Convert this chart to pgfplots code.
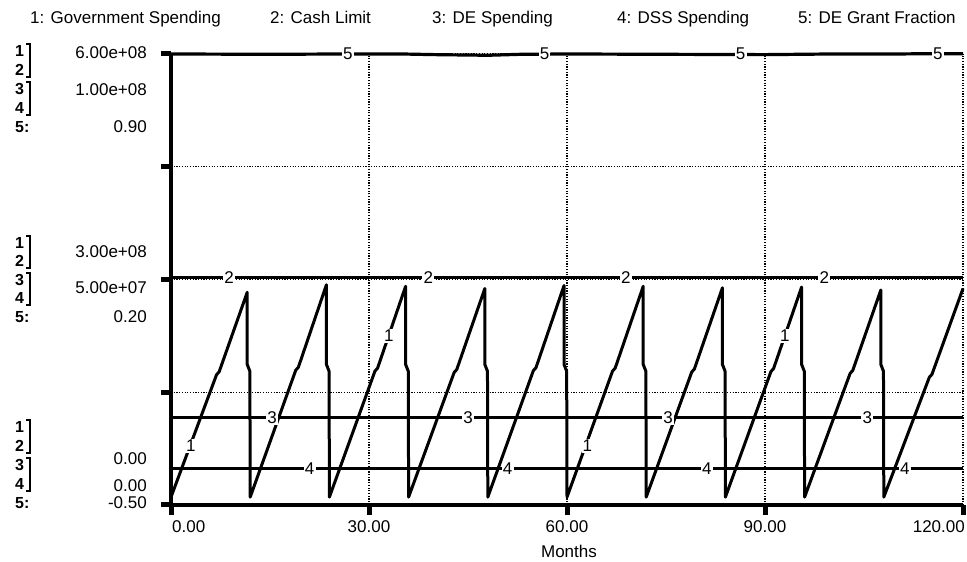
\documentclass[border=0pt]{standalone}
\usepackage{pgfplots}
\pgfplotsset{compat=1.18}
\usepackage{fontspec}
\setmainfont{Liberation Sans}
\newcommand\lab{\fontsize{17}{17}\selectfont}
\newcommand\dig{\fontsize{16}{16}\selectfont\bfseries}

\pgfplotstableread{
t v
0 1.05e7
3.5 9.31e7
6.9 1.733e8
7.3 1.773e8
11.55 2.83e8
11.55 1.87e8
11.95 1.78e8
12 1.05e7
15.5 9.61e7
18.9 1.793e8
19.3 1.833e8
23.55 2.93e8
23.55 1.87e8
23.95 1.78e8
24 1.05e7
27.5 9.55e7
30.9 1.781e8
31.3 1.821e8
35.55 2.91e8
35.55 1.87e8
35.95 1.78e8
36 1.05e7
39.5 9.46e7
42.9 1.763e8
43.3 1.803e8
47.55 2.88e8
47.55 1.87e8
47.95 1.78e8
48 1.05e7
51.5 9.58e7
54.9 1.787e8
55.3 1.827e8
59.55 2.92e8
59.55 1.87e8
59.95 1.78e8
60 1.05e7
63.5 9.55e7
66.9 1.781e8
67.3 1.821e8
71.55 2.91e8
71.55 1.87e8
71.95 1.78e8
72 1.05e7
75.5 9.49e7
78.9 1.769e8
79.3 1.809e8
83.55 2.89e8
83.55 1.87e8
83.95 1.78e8
84 1.05e7
87.5 9.52e7
90.9 1.775e8
91.3 1.815e8
95.55 2.90e8
95.55 1.87e8
95.95 1.78e8
96 1.05e7
99.5 9.40e7
102.9 1.751e8
103.3 1.791e8
107.55 2.86e8
107.55 1.87e8
107.95 1.78e8
108 1.05e7
111.5 9.14e7
114.9 1.699e8
115.3 1.739e8
120 2.88e8
}\govspend

\pgfplotstableread{
t v
0 3.03e8
120 3.03e8
}\cashlimit

\pgfplotstableread{
t v
0 1.93e7
120 1.93e7
}\despend

\pgfplotstableread{
t v
0 8.0e6
120 8.0e6
}\dssspend

\pgfplotstableread{
t v
0 0.900
15 0.899
26 0.900
35 0.900
40 0.898
48 0.896
53 0.899
60 0.900
75 0.899
90 0.898
100 0.900
110 0.900
115 0.901
120 0.901
}\grantfrac

\begin{document}
\begin{tikzpicture}[x=1pt,y=1pt]
\useasboundingbox (0,0) rectangle (967,562);

% axis for series 1 and 2 (0 .. 6e8)
\begin{axis}[
  at={(171pt,57pt)}, anchor=south west, scale only axis,
  width=792pt, height=451pt,
  xmin=0, xmax=120, ymin=0, ymax=6e8,
  clip=false,
  axis x line*=bottom, axis y line*=left,
  axis line style={line width=4.2pt,-,black},
  xtick={0,30,60,90,120}, ytick={0,1.5e8,3e8,4.5e8,6e8},
  xticklabels={}, yticklabels={},
  scaled y ticks=false,
  tick align=outside, major tick length=10pt,
  tick style={line width=5pt,black},
  grid=major,
  grid style={line width=1.3pt,black,dash pattern=on 1.2pt off 1.5pt},
]
\addplot[black, line width=3pt, line join=round] table[x=t,y=v]{\govspend};
\addplot[black, line width=3pt] table[x=t,y=v]{\cashlimit};
\node[fill=white,inner sep=1.2pt,font=\lab] at (axis cs:8.8,3.03e8) {2};
\node[fill=white,inner sep=1.2pt,font=\lab] at (axis cs:39,3.03e8) {2};
\node[fill=white,inner sep=1.2pt,font=\lab] at (axis cs:68.9,3.03e8) {2};
\node[fill=white,inner sep=1.2pt,font=\lab] at (axis cs:99,3.03e8) {2};
\node[fill=white,inner sep=1.2pt,font=\lab] at (axis cs:3.0,7.9e7) {1};
\node[fill=white,inner sep=1.2pt,font=\lab] at (axis cs:33.0,2.25e8) {1};
\node[fill=white,inner sep=1.2pt,font=\lab] at (axis cs:63.1,7.9e7) {1};
\node[fill=white,inner sep=1.2pt,font=\lab] at (axis cs:93.0,2.25e8) {1};
\end{axis}

% axis for series 3 and 4 (0 .. 1e8)
\begin{axis}[
  at={(171pt,57pt)}, anchor=south west, scale only axis,
  width=792pt, height=451pt,
  xmin=0, xmax=120, ymin=0, ymax=1e8,
  clip=false, hide axis,
]
\addplot[black, line width=3pt] table[x=t,y=v]{\despend};
\addplot[black, line width=3pt] table[x=t,y=v]{\dssspend};
\node[fill=white,inner sep=1.2pt,font=\lab] at (axis cs:15.3,1.93e7) {3};
\node[fill=white,inner sep=1.2pt,font=\lab] at (axis cs:45,1.93e7) {3};
\node[fill=white,inner sep=1.2pt,font=\lab] at (axis cs:75.3,1.93e7) {3};
\node[fill=white,inner sep=1.2pt,font=\lab] at (axis cs:105.5,1.93e7) {3};
\node[fill=white,inner sep=1.2pt,font=\lab] at (axis cs:21,8.0e6) {4};
\node[fill=white,inner sep=1.2pt,font=\lab] at (axis cs:51,8.0e6) {4};
\node[fill=white,inner sep=1.2pt,font=\lab] at (axis cs:81.2,8.0e6) {4};
\node[fill=white,inner sep=1.2pt,font=\lab] at (axis cs:111.2,8.0e6) {4};
\end{axis}

% axis for series 5 (-0.5 .. 0.9)
\begin{axis}[
  at={(171pt,57pt)}, anchor=south west, scale only axis,
  width=792pt, height=451pt,
  xmin=0, xmax=120, ymin=-0.5, ymax=0.9,
  clip=false, hide axis,
]
\addplot[black, line width=3.2pt] table[x=t,y=v]{\grantfrac};
\node[fill=white,inner sep=1.2pt,font=\lab] at (axis cs:26.8,0.9) {5};
\node[fill=white,inner sep=1.2pt,font=\lab] at (axis cs:56.6,0.9) {5};
\node[fill=white,inner sep=1.2pt,font=\lab] at (axis cs:86.3,0.9) {5};
\node[fill=white,inner sep=1.2pt,font=\lab] at (axis cs:116.2,0.9) {5};
\end{axis}

% header legend
\node[anchor=base west,font=\lab,inner sep=0] at (30,538) {1: Government Spending};
\node[anchor=base west,font=\lab,inner sep=0] at (270,538) {2: Cash Limit};
\node[anchor=base west,font=\lab,inner sep=0] at (432,538) {3: DE Spending};
\node[anchor=base west,font=\lab,inner sep=0] at (617,538) {4: DSS Spending};
\node[anchor=base west,font=\lab,inner sep=0] at (798,538) {5: DE Grant Fraction};

% x tick labels and title
\node[anchor=base west,font=\lab,inner sep=0] at (172,29) {0.00};
\node[anchor=base,font=\lab,inner sep=0] at (369,29) {30.00};
\node[anchor=base,font=\lab,inner sep=0] at (567,29) {60.00};
\node[anchor=base,font=\lab,inner sep=0] at (765,29) {90.00};
\node[anchor=base east,font=\lab,inner sep=0] at (965,29) {120.00};
\node[anchor=base,font=\lab,inner sep=0] at (569,4) {Months};

% left scale blocks
\foreach \y/\t in {505/1,486/2,467/3,448/4,429/5:,313/1,295/2,276/3,258/4,239/5:,129/1,110/2,91/3,72/4,53/5:}
  \node[anchor=base west,font=\dig,inner sep=0] at (15,\y) {\t};
\foreach \a/\b in {518/485,480/447,326/294,289/257,142/109,104/71}
  \draw[line width=2.4pt] (26,\a) -- (30,\a) -- (30,\b) -- (26,\b);
\node[anchor=base east,font=\lab,inner sep=0] at (147,503) {6.00e+08};
\node[anchor=base east,font=\lab,inner sep=0] at (147,466) {1.00e+08};
\node[anchor=base east,font=\lab,inner sep=0] at (147,429) {0.90};
\node[anchor=base east,font=\lab,inner sep=0] at (147,304) {3.00e+08};
\node[anchor=base east,font=\lab,inner sep=0] at (147,268) {5.00e+07};
\node[anchor=base east,font=\lab,inner sep=0] at (147,239) {0.20};
\node[anchor=base east,font=\lab,inner sep=0] at (147,97) {0.00};
\node[anchor=base east,font=\lab,inner sep=0] at (147,70) {0.00};
\node[anchor=base east,font=\lab,inner sep=0] at (147,53) {-0.50};
\end{tikzpicture}
\end{document}
